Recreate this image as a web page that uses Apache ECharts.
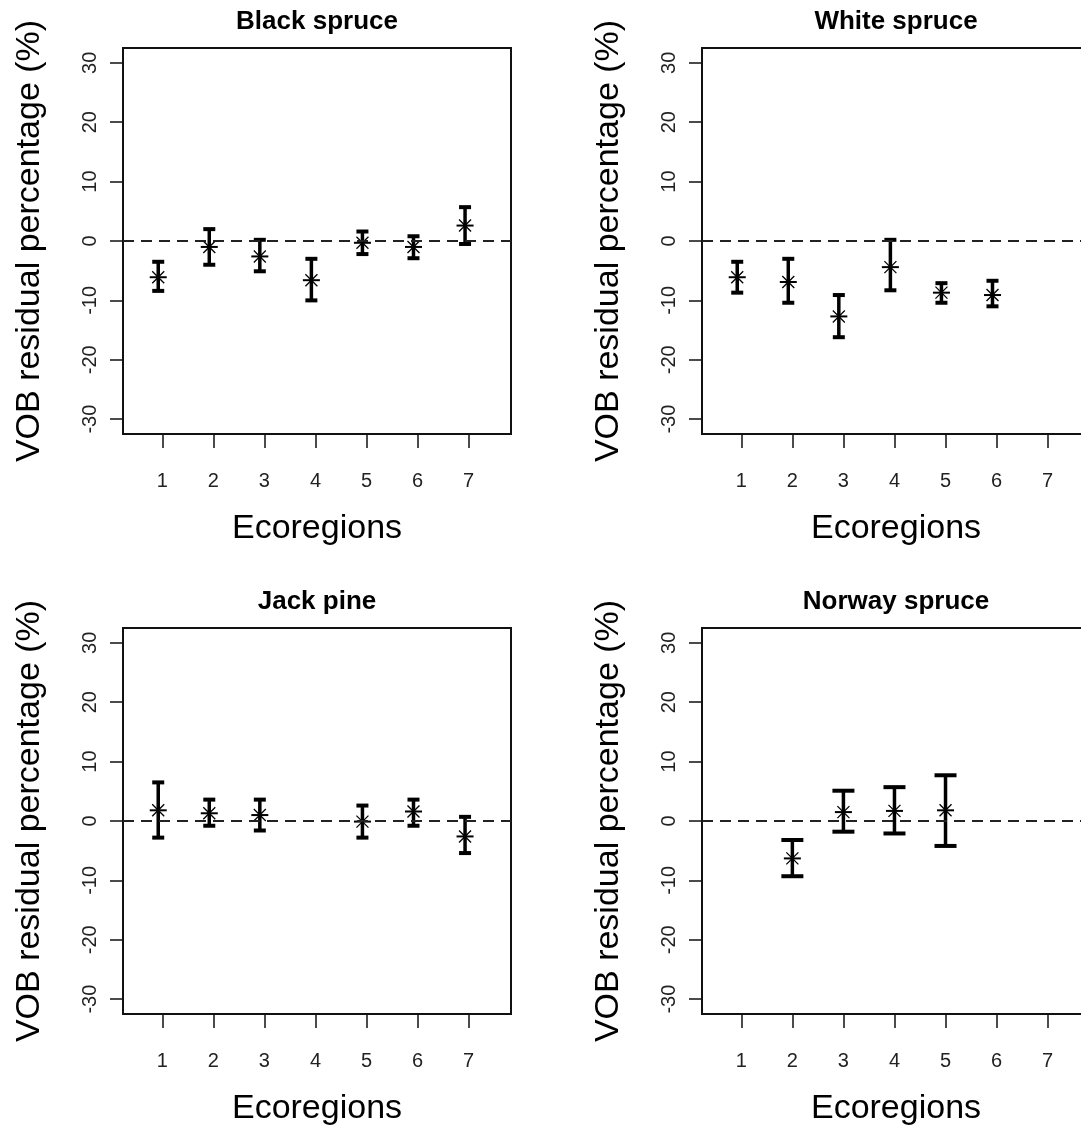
<!DOCTYPE html>
<html>
<head>
<meta charset="utf-8">
<script src="https://cdn.jsdelivr.net/npm/echarts@6/dist/echarts.min.js"></script>
<style>
  html, body { margin: 0; padding: 0; background: #fff; }
  #chart { width: 1081px; height: 1126px; }
</style>
</head>
<body>
<div id="chart"></div>
<script>
const ecoregions = [1, 2, 3, 4, 5, 6, 7]
const yTicks = [-30, -20, -10, 0, 10, 20, 30]
const panelTitles = ['Black spruce', 'White spruce', 'Jack pine', 'Norway spruce']

// point positions on the x axis (first three panels sit a little left of the ticks)
const shiftedX = [0.92, 1.92, 2.91, 3.92, 4.92, 5.92, 6.93]
const plainX = [1, 2, 3, 4, 5, 6, 7]

const blackMean = [-6.1, -1.0, -2.6, -6.6, -0.3, -1.0, 2.6]
const blackLow = [-8.4, -4.0, -5.1, -10.0, -2.2, -2.9, -0.5]
const blackHigh = [-3.5, 2.0, 0.2, -3.0, 1.6, 0.8, 5.7]

const whiteMean = [-6.1, -6.9, -12.7, -4.4, -8.7, -9.1, null]
const whiteLow = [-8.7, -10.4, -16.2, -8.3, -10.4, -11.0, null]
const whiteHigh = [-3.5, -3.0, -9.1, 0.2, -7.1, -6.7, null]

const jackMean = [1.8, 1.3, 1.0, null, -0.1, 1.6, -2.6]
const jackLow = [-2.8, -0.8, -1.6, null, -2.8, -0.8, -5.4]
const jackHigh = [6.5, 3.6, 3.6, null, 2.6, 3.6, 0.7]

const norwayMean = [null, -6.3, 1.5, 1.7, 1.8, null, null]
const norwayLow = [null, -9.3, -1.8, -2.1, -4.2, null, null]
const norwayHigh = [null, -3.2, 5.1, 5.7, 7.7, null, null]

const panels = [
  { left: 123, top: 48, capW: 12, x: shiftedX, mean: blackMean, low: blackLow, high: blackHigh },
  { left: 702, top: 48, capW: 12, x: shiftedX, mean: whiteMean, low: whiteLow, high: whiteHigh },
  { left: 123, top: 628, capW: 12, x: shiftedX, mean: jackMean, low: jackLow, high: jackHigh },
  { left: 702, top: 628, capW: 22, x: plainX, mean: norwayMean, low: norwayLow, high: norwayHigh }
]

const W = 388
const H = 386
const font = 'Liberation Sans, Arial, sans-serif'
const ink = '#111'

const chart = echarts.init(document.getElementById('chart'), null, { renderer: 'canvas' })

const grids = []
const xAxes = []
const yAxes = []
const series = []
const titles = []

panels.forEach((p, i) => {
  grids.push({
    left: p.left, top: p.top, width: W, height: H,
    outerBoundsMode: 'none',
    containLabel: false,
    show: true, borderColor: ink, borderWidth: 2, backgroundColor: 'transparent'
  })

  xAxes.push({
    gridIndex: i,
    type: 'value',
    position: 'bottom',
    min: 0.23,
    max: 7.83,
    axisLine: { show: false, onZero: false },
    splitLine: { show: false },
    axisTick: { show: true, customValues: ecoregions, length: 14, lineStyle: { color: ink, width: 1.5 } },
    axisLabel: { customValues: ecoregions, fontSize: 20, color: '#222', margin: 37, fontFamily: font },
    name: 'Ecoregions',
    nameLocation: 'middle',
    nameGap: 78,
    nameTextStyle: { fontSize: 34, color: '#000', fontFamily: font }
  })

  yAxes.push({
    gridIndex: i,
    type: 'value',
    position: 'left',
    min: -32.5,
    max: 32.5,
    axisLine: { show: false, onZero: false },
    splitLine: { show: false },
    axisTick: { show: true, customValues: yTicks, length: 13, lineStyle: { color: ink, width: 1.5 } },
    axisLabel: { customValues: yTicks, rotate: 90, fontSize: 20, color: '#222', margin: 23, fontFamily: font },
    name: 'VOB residual percentage (%)',
    nameLocation: 'middle',
    nameGap: 76,
    nameTextStyle: { fontSize: 34, color: '#000', fontFamily: font }
  })

  titles.push({
    type: 'text',
    x: p.left + W / 2,
    y: p.top - 26,
    style: {
      text: panelTitles[i],
      fontSize: 26,
      fontWeight: 'bold',
      fontFamily: font,
      fill: '#000',
      textAlign: 'center',
      textVerticalAlign: 'middle'
    }
  })

  const data = []
  p.mean.forEach((m, k) => {
    if (m != null) data.push([p.x[k], m, p.low[k], p.high[k]])
  })

  series.push({
    type: 'custom',
    xAxisIndex: i,
    yAxisIndex: i,
    data: data,
    encode: { x: 0, y: [1, 2, 3] },
    animation: false,
    renderItem: (params, api) => {
      const x = api.value(0)
      const c = api.coord([x, api.value(1)])
      const lo = api.coord([x, api.value(2)])
      const hi = api.coord([x, api.value(3)])
      const w = p.capW / 2
      const r = 8.5
      const d = 6
      const thick = { stroke: '#000', lineWidth: 3.5 }
      const thin = { stroke: '#000', lineWidth: 1.3 }
      return {
        type: 'group',
        children: [
          { type: 'line', shape: { x1: lo[0], y1: lo[1], x2: hi[0], y2: hi[1] }, style: thick },
          { type: 'line', shape: { x1: lo[0] - w, y1: lo[1], x2: lo[0] + w, y2: lo[1] }, style: { stroke: '#000', lineWidth: 4 } },
          { type: 'line', shape: { x1: hi[0] - w, y1: hi[1], x2: hi[0] + w, y2: hi[1] }, style: { stroke: '#000', lineWidth: 4 } },
          // asterisk (plus and cross)
          { type: 'line', shape: { x1: c[0] - r, y1: c[1], x2: c[0] + r, y2: c[1] }, style: { stroke: '#000', lineWidth: 2 } },
          { type: 'line', shape: { x1: c[0], y1: c[1] - r, x2: c[0], y2: c[1] + r }, style: thin },
          { type: 'line', shape: { x1: c[0] - d, y1: c[1] - d, x2: c[0] + d, y2: c[1] + d }, style: thin },
          { type: 'line', shape: { x1: c[0] - d, y1: c[1] + d, x2: c[0] + d, y2: c[1] - d }, style: thin }
        ]
      }
    },
    markLine: {
      silent: true,
      symbol: ['none', 'none'],
      label: { show: false },
      lineStyle: { type: [11, 7], color: '#222', width: 2 },
      data: [{ yAxis: 0 }]
    }
  })
})

chart.setOption({
  animation: false,
  backgroundColor: '#fff',
  grid: grids,
  xAxis: xAxes,
  yAxis: yAxes,
  series: series,
  graphic: titles
})
</script>
</body>
</html>
